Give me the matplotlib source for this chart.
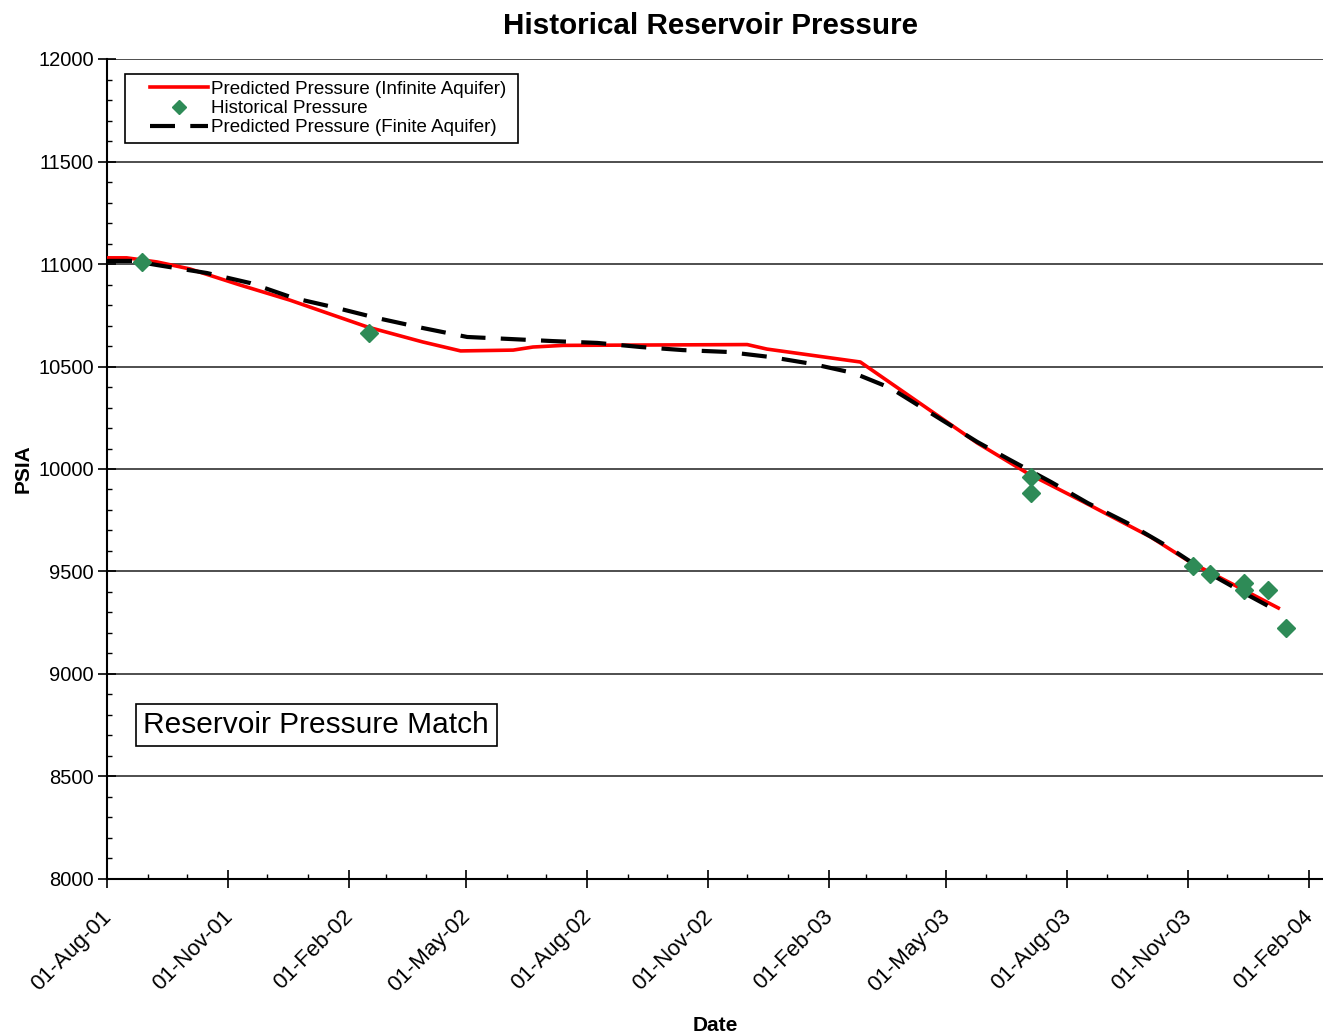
import pandas as pd
import matplotlib
matplotlib.use("Agg")
import matplotlib.pyplot as plt
import matplotlib.dates as mdates
import matplotlib.transforms as mtransforms
from matplotlib.ticker import MultipleLocator
from matplotlib.lines import Line2D
from matplotlib.legend_handler import HandlerLine2D

plt.rcParams['font.family'] = ['Liberation Sans', 'DejaVu Sans']
plt.rcParams['lines.scale_dashes'] = False

# Predicted pressure, infinite aquifer (psia)
inf_dates = ['2001-08-01', '2001-08-16', '2001-09-08', '2001-10-03', '2001-11-10',
             '2001-12-18', '2002-02-15', '2002-03-29', '2002-04-27', '2002-06-06',
             '2002-06-21', '2002-07-14', '2002-12-01', '2002-12-16', '2003-02-25',
             '2003-05-25', '2003-07-02', '2003-08-14', '2003-10-04', '2003-11-03',
             '2004-01-09']
inf_psia = [11030, 11030, 11010, 10976, 10898,
            10824, 10693, 10620, 10576, 10580,
            10595, 10603, 10607, 10585, 10522,
            10127, 9980, 9839, 9668, 9546,
            9322]

# Predicted pressure, finite aquifer (psia)
fin_dates = ['2001-08-01', '2001-08-21', '2001-09-08', '2001-10-16', '2001-11-18',
             '2001-12-21', '2002-01-20', '2002-02-22', '2002-03-29', '2002-05-02',
             '2002-06-04', '2002-07-06', '2002-08-09', '2002-09-11', '2002-10-13',
             '2002-11-16', '2002-12-19', '2003-01-20', '2003-02-20', '2003-03-20',
             '2003-05-25', '2003-06-19', '2003-07-20', '2003-08-17', '2003-09-16',
             '2003-10-15', '2003-11-13', '2003-12-14', '2004-01-07']
fin_psia = [11015, 11015, 10995, 10956, 10907,
            10834, 10790, 10737, 10688, 10644,
            10634, 10624, 10615, 10595, 10580,
            10571, 10546, 10512, 10468, 10395,
            10132, 10044, 9937, 9834, 9737,
            9629, 9507, 9395, 9312]

# Historical measured pressure (psia)
hist_dates = ['2001-08-28', '2002-02-16', '2003-07-05', '2003-07-05', '2003-11-05',
              '2003-11-18', '2003-12-14', '2003-12-14', '2004-01-01', '2004-01-15']
hist_psia = [11010, 10663, 9961, 9883, 9527,
             9488, 9444, 9410, 9410, 9224]

fig = plt.figure(figsize=(13.23, 10.36), dpi=100)
ax = fig.add_axes([107 / 1323, 1 - 879 / 1036, 1 - 107 / 1323, (879 - 59) / 1036])

ax.plot(pd.to_datetime(inf_dates), inf_psia, color='red', lw=2.6, zorder=3)
ax.plot(pd.to_datetime(fin_dates), fin_psia, color='black', lw=3.0,
        dashes=(18, 11), zorder=4)
ax.plot(pd.to_datetime(hist_dates), hist_psia, 'D', color='#2E8B57', ms=9.5,
        mec='#2E8B57', zorder=5)

ax.set_xlim(pd.Timestamp('2001-08-01'), pd.Timestamp('2004-02-12'))
ax.set_ylim(8000, 12000)

ax.xaxis.set_major_locator(mdates.MonthLocator(bymonth=[2, 5, 8, 11], bymonthday=1))
ax.xaxis.set_minor_locator(mdates.MonthLocator())
ax.xaxis.set_major_formatter(mdates.DateFormatter('%d-%b-%y'))
ax.yaxis.set_major_locator(MultipleLocator(500))
ax.yaxis.set_minor_locator(MultipleLocator(100))

ax.tick_params(axis='both', which='major', direction='inout', length=13, width=1.2,
               color='black')
ax.tick_params(axis='y', which='major', pad=3, labelsize=14.5)
ax.tick_params(axis='x', which='major', pad=13, labelsize=16)
ax.tick_params(axis='both', which='minor', direction='in', length=3.5, width=1.0)
shift = mtransforms.ScaledTranslation(-6 / 100, 0, fig.dpi_scale_trans)
for lbl in ax.get_xticklabels():
    lbl.set_rotation(45)
    lbl.set_ha('right')
    lbl.set_va('top')
    lbl.set_rotation_mode('anchor')
    lbl.set_transform(lbl.get_transform() + shift)

ax.grid(axis='y', which='major', color='#404040', lw=1.3)
for side in ['top', 'right']:
    ax.spines[side].set_visible(False)
for side in ['left', 'bottom']:
    ax.spines[side].set_linewidth(1.5)

ax.set_title('Historical Reservoir Pressure', fontsize=21.3, fontweight='bold', pad=18,
             x=0.496)
ax.set_ylabel('PSIA', fontsize=15, fontweight='bold', labelpad=4)
ax.set_xlabel('Date', fontsize=15, fontweight='bold', labelpad=14)

handles = [Line2D([], [], color='red', lw=2.6),
           Line2D([], [], ls='none', marker='D', color='#2E8B57', ms=7),
           Line2D([], [], color='black', lw=3.0, dashes=(18, 11))]
labels = ['Predicted Pressure (Infinite Aquifer) ', 'Historical Pressure',
          'Predicted Pressure (Finite Aquifer)']
leg = ax.legend(handles, labels, loc='upper left', bbox_to_anchor=(0.0148, 0.9817),
                borderaxespad=0, fontsize=13.5, labelspacing=0.12, handlelength=4.1,
                handletextpad=0.12, borderpad=0.35, fancybox=False, framealpha=1,
                edgecolor='black', handler_map={Line2D: HandlerLine2D(xpad=1.0)})
leg.get_frame().set_linewidth(1.2)

ax.text(0.030, 0.1878, 'Reservoir Pressure Match', transform=ax.transAxes,
        fontsize=21.5, ha='left', va='center',
        bbox=dict(boxstyle='square,pad=0.25', fc='white', ec='black', lw=1.2))

fig.savefig('out.png', dpi=100)
